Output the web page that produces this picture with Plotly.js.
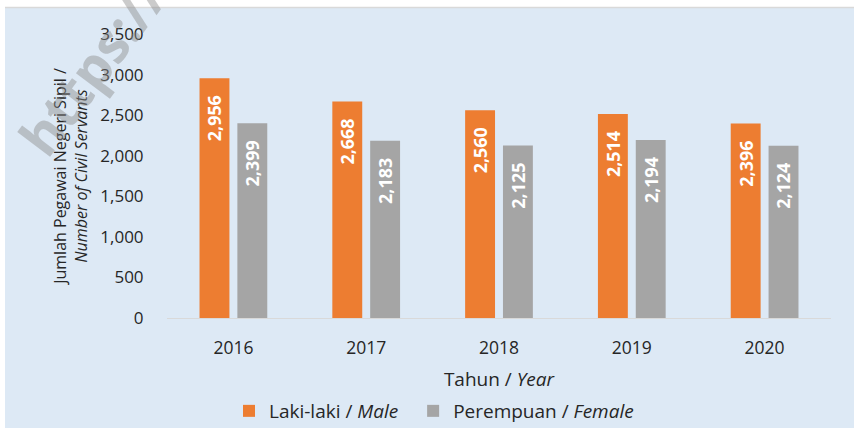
<!DOCTYPE html>
<html>
<head>
<meta charset="utf-8">
<script src="https://cdn.plot.ly/plotly-3.0.1.min.js"></script>
<style>
html,body{margin:0;padding:0;background:#ffffff;}
#chart{width:854px;height:428px;}
</style>
</head>
<body>
<div id="chart"></div>
<script>
const years = ['2016', '2017', '2018', '2019', '2020'];
const male = [2956, 2668, 2560, 2514, 2396];
const female = [2399, 2183, 2125, 2194, 2124];
const yTicks = [0, 500, 1000, 1500, 2000, 2500, 3000, 3500];
const maleName = 'Laki-laki / <i>Male</i>';
const femaleName = 'Perempuan / <i>Female</i>';

const FONT = 'Open Sans, Noto Sans, sans-serif';
const pad = '\u00a0\u00a0\u00a0';

const labelFont = {family: FONT, size: 18, color: '#ffffff', weight: 'bold'};

const traces = [
  {
    type: 'bar', x: years, y: male, name: maleName + '\u00a0\u00a0',
    marker: {color: '#ed7d31'},
    texttemplate: '<b>%{y:,}</b>' + pad,
    textposition: 'inside', insidetextanchor: 'end', textangle: -90,
    textfont: labelFont, hoverinfo: 'skip'
  },
  {
    type: 'bar', x: years, y: female, name: femaleName,
    marker: {color: '#a5a5a5'},
    texttemplate: '<b>%{y:,}</b>' + pad,
    textposition: 'inside', insidetextanchor: 'end', textangle: -90,
    textfont: labelFont, hoverinfo: 'skip'
  }
];

const L = 167, R = 831, T = 34, B = 318, W = 854, H = 428;
const px = v => (v - L) / (R - L);
const py = v => (B - v) / (B - T);

const layout = {
  width: W, height: H,
  margin: {l: L, r: W - R, t: T, b: H - B, pad: 0, autoexpand: false},
  paper_bgcolor: '#ffffff',
  plot_bgcolor: 'rgba(0,0,0,0)',
  font: {family: FONT, color: '#262626', size: 17},
  barmode: 'group',
  bargap: 0.43,
  bargroupgap: 0.21,
  showlegend: true,
  legend: {
    orientation: 'h', x: px(229), xanchor: 'left', y: py(411), yanchor: 'middle',
    font: {family: FONT, size: 19, color: '#262626'},
    bgcolor: 'rgba(0,0,0,0)', traceorder: 'normal'
  },
  xaxis: {
    type: 'category', automargin: false,
    showgrid: false, zeroline: false,
    showline: true, linecolor: '#d9d9d9', linewidth: 1,
    ticks: 'outside', ticklen: 14, tickcolor: 'rgba(0,0,0,0)',
    tickfont: {family: FONT, size: 17.5, color: '#262626'},
    title: {text: 'Tahun / <i>Year</i>', font: {family: FONT, size: 19, color: '#262626'}, standoff: 14}
  },
  yaxis: {
    range: [0, 3500], automargin: false,
    tickvals: yTicks,
    ticktext: yTicks.map(v => v.toLocaleString('en-US')),
    showgrid: false, zeroline: false, showline: false,
    ticks: 'outside', ticklen: 19, tickcolor: 'rgba(0,0,0,0)',
    tickfont: {family: FONT, size: 17, color: '#262626'},
    title: {text: 'Jumlah Pegawai Negeri Sipil /<br><i>Number of Civil Servants</i>', font: {family: FONT, size: 16, color: '#262626'}, standoff: 8}
  },
  shapes: [
    {type: 'rect', xref: 'paper', yref: 'paper', x0: px(5), x1: px(860), y0: py(8), y1: py(440),
     fillcolor: '#dde9f5', line: {width: 0}, layer: 'below'},
    {type: 'line', xref: 'paper', yref: 'paper', x0: px(5), x1: px(860), y0: py(7.5), y1: py(7.5),
     line: {color: '#d9d9d9', width: 1.5}, layer: 'below'}
  ],
  annotations: [
    {xref: 'paper', yref: 'paper', x: px(92), y: py(66), xanchor: 'center', yanchor: 'middle',
     text: '<b>https://</b>', textangle: -53, showarrow: false,
     font: {family: FONT, size: 54, color: 'rgba(140,140,140,0.45)'}}
  ]
};

Plotly.newPlot('chart', traces, layout, {displayModeBar: false, staticPlot: true});
</script>
</body>
</html>
